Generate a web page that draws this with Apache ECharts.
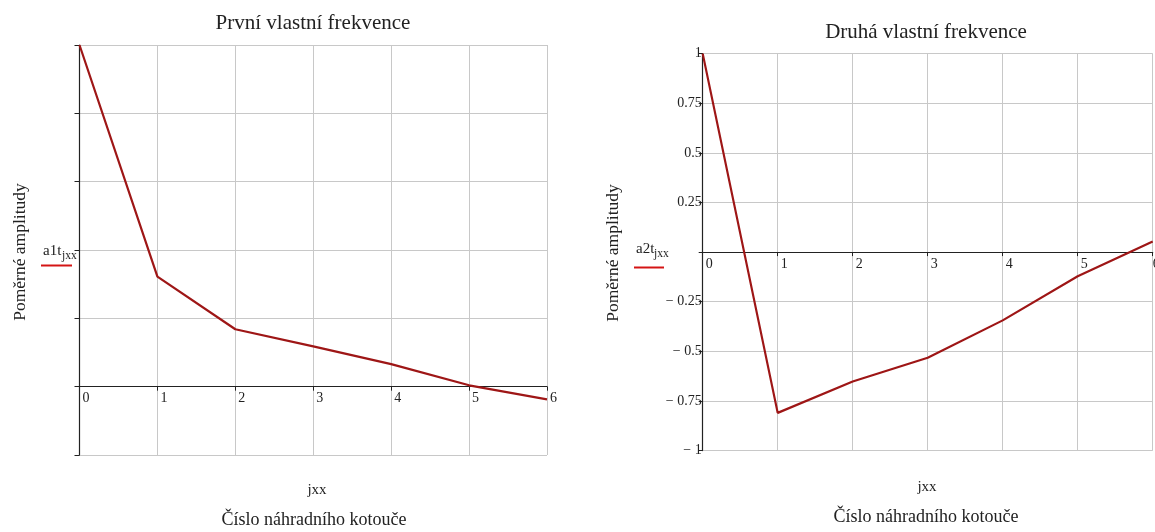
<!DOCTYPE html>
<html>
<head>
<meta charset="utf-8">
<script src="https://cdn.jsdelivr.net/npm/echarts@6/dist/echarts.min.js"></script>
<style>html,body{margin:0;padding:0;background:#fff;overflow:hidden}#c{width:1155px;height:532px}</style>
</head>
<body>
<div id="c"></div>
<script>
// ---- data ----
var xValues = [0, 1, 2, 3, 4, 5, 6];
var mode1 = [1.0, 0.322, 0.168, 0.118, 0.066, 0.004, -0.037];
var mode2 = [1.0, -0.81, -0.652, -0.532, -0.344, -0.122, 0.053];
var titles = ['První vlastní frekvence', 'Druhá vlastní frekvence'];
var yName = 'Poměrné amplitudy';
var xName = 'jxx';
var xTitle = 'Číslo náhradního kotouče';
var legendNames = ['a1t', 'a2t'];
var legendSub = 'jxx';

function pairs(xs, ys) { return xs.map(function (x, i) { return [x, ys[i]]; }); }

var FONT = "'Liberation Serif', 'Times New Roman', serif";
var TXT = '#222';
var LINE = '#9e1616';

var G1 = {left: 79.5, top: 45, width: 467.5, height: 410};
var G2 = {left: 702.7, top: 53.6, width: 450, height: 397};
// vertical distance (px) from bottom of plot to the zero line
var zero1 = G1.height * (0 - (-0.2)) / (1 - (-0.2));
var zero2 = G2.height * (0 - (-1)) / (1 - (-1));

var chart = echarts.init(document.getElementById('c'), null, {renderer: 'canvas'});

function xAxisDef(gi, off, tightLast) {
  return {
    type: 'value', gridIndex: gi, min: 0, max: 6, interval: 1,
    offset: -off,
    axisLine: {onZero: false, lineStyle: {color: '#222', width: 1.2}},
    axisTick: {show: true, inside: false, length: 4, lineStyle: {color: '#222'}},
    axisLabel: {
      color: TXT, fontFamily: FONT, fontSize: 14, align: 'left', margin: 5,
      showMinLabel: true, showMaxLabel: true, hideOverlap: false,
      formatter: function (v) {
        return (tightLast && v === 6) ? '{e|' + v + '}' : '{n|' + v + '}';
      },
      rich: {
        n: {fontFamily: FONT, fontSize: 14, color: TXT, padding: [0, 0, 0, 3]},
        e: {fontFamily: FONT, fontSize: 14, color: TXT, padding: [0, 0, 0, 0]}
      }
    },
    splitLine: {show: true, lineStyle: {color: '#c8c8c8', width: 1}}
  };
}

var option = {
  animation: false,
  backgroundColor: '#fff',
  grid: [
    {left: G1.left, top: G1.top, width: G1.width, height: G1.height, containLabel: false, outerBoundsMode: 'none'},
    {left: G2.left, top: G2.top, width: G2.width, height: G2.height, containLabel: false, outerBoundsMode: 'none'}
  ],
  xAxis: [xAxisDef(0, zero1, false), xAxisDef(1, zero2, true)],
  yAxis: [
    {
      type: 'value', gridIndex: 0, min: -0.2, max: 1, interval: 0.2,
      axisLine: {show: true, onZero: false, lineStyle: {color: '#222', width: 1.2}},
      axisTick: {show: true, length: 5, lineStyle: {color: '#222'}},
      axisLabel: {show: false},
      splitLine: {show: true, lineStyle: {color: '#c8c8c8', width: 1}}
    },
    {
      type: 'value', gridIndex: 1, min: -1, max: 1, interval: 0.25,
      axisLine: {show: true, onZero: false, lineStyle: {color: '#222', width: 1.2}},
      axisTick: {show: true, length: 4, lineStyle: {color: '#222'}},
      axisLabel: {
        color: TXT, fontFamily: FONT, fontSize: 14, margin: 1,
        formatter: function (v) {
          if (Math.abs(v) < 1e-9) return '';
          return v < 0 ? '\u2212 ' + String(-v) : String(v);
        }
      },
      splitLine: {show: true, lineStyle: {color: '#c8c8c8', width: 1}}
    }
  ],
  series: [
    {type: 'line', xAxisIndex: 0, yAxisIndex: 0, data: pairs(xValues, mode1), symbol: 'none',
     lineStyle: {color: LINE, width: 2.2}},
    {type: 'line', xAxisIndex: 1, yAxisIndex: 1, data: pairs(xValues, mode2), symbol: 'none',
     lineStyle: {color: LINE, width: 2.2}}
  ],
  graphic: [
    {type: 'text', x: 313, y: 23, style: {text: titles[0], font: '21px ' + FONT, fill: TXT, align: 'center', verticalAlign: 'middle'}},
    {type: 'text', x: 926, y: 32, style: {text: titles[1], font: '21px ' + FONT, fill: TXT, align: 'center', verticalAlign: 'middle'}},
    {type: 'text', x: 20, y: 252, rotation: Math.PI / 2, style: {text: yName, font: '17.5px ' + FONT, fill: TXT, align: 'center', verticalAlign: 'middle'}},
    {type: 'text', x: 613, y: 253, rotation: Math.PI / 2, style: {text: yName, font: '17.5px ' + FONT, fill: TXT, align: 'center', verticalAlign: 'middle'}},
    {type: 'text', x: 317, y: 490, style: {text: xName, font: '15px ' + FONT, fill: TXT, align: 'center', verticalAlign: 'middle'}},
    {type: 'text', x: 314, y: 520, style: {text: xTitle, font: '18px ' + FONT, fill: TXT, align: 'center', verticalAlign: 'middle'}},
    {type: 'text', x: 927, y: 487, style: {text: xName, font: '15px ' + FONT, fill: TXT, align: 'center', verticalAlign: 'middle'}},
    {type: 'text', x: 926, y: 517, style: {text: xTitle, font: '18px ' + FONT, fill: TXT, align: 'center', verticalAlign: 'middle'}},
    // legend-like labels
    {type: 'text', x: 43, y: 251, style: {text: legendNames[0], font: '15px ' + FONT, fill: TXT, align: 'left', verticalAlign: 'middle'}},
    {type: 'text', x: 62, y: 256, style: {text: legendSub, font: '11.5px ' + FONT, fill: TXT, align: 'left', verticalAlign: 'middle'}},
    {type: 'line', shape: {x1: 41, y1: 265.5, x2: 72, y2: 265.5}, style: {stroke: '#d41414', lineWidth: 2}},
    {type: 'text', x: 636, y: 249, style: {text: legendNames[1], font: '15px ' + FONT, fill: TXT, align: 'left', verticalAlign: 'middle'}},
    {type: 'text', x: 654, y: 254, style: {text: legendSub, font: '11.5px ' + FONT, fill: TXT, align: 'left', verticalAlign: 'middle'}},
    {type: 'line', shape: {x1: 634, y1: 267.5, x2: 664, y2: 267.5}, style: {stroke: '#d41414', lineWidth: 2}}
  ]
};
chart.setOption(option);
</script>
</body>
</html>
